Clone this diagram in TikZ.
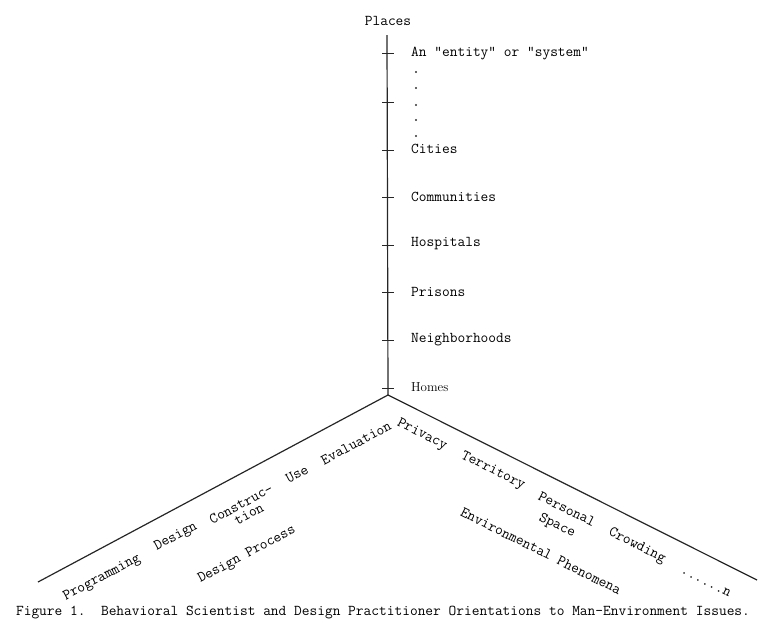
\documentclass[tikz,border=0pt]{standalone}
\begin{document}
\begin{tikzpicture}[x=1pt,y=-1pt,
  font=\ttfamily\fontsize{15}{18}\selectfont,
  axis/.style={line width=1.2pt,black!85},
  tick/.style={line width=1pt,black!85},
  place/.style={anchor=west,inner sep=0pt},
  lft/.style={rotate=28,inner sep=0pt},
  rgt/.style={rotate=-26.6,inner sep=0pt},
  dotmark/.style={circle,fill=black!80,inner sep=0pt,minimum size=2.4pt}]
\useasboundingbox (0,0) rectangle (758,625);
% axes
\coordinate (O) at (388,395);
\coordinate (T) at (387,35);
\coordinate (L) at (38,582);
\coordinate (R) at (757,580);
\draw[axis] (T) -- (O);
\draw[axis] (L) -- (O) -- (R);
% ticks
\foreach \y/\n in {53/a,102/b,150/c,197/d,245/e,292/f,340/g,388/h}{
  \coordinate (t\n l) at (382,\y);
  \coordinate (t\n r) at (394,\y);
  \draw[tick] (t\n l) -- (t\n r);
}
% vertical axis labels
\node[inner sep=0pt] (places) at (388,21) {Places};
\node[place] (entity) at (411,54) {An "entity" or "system"};
\foreach \y/\n in {72/1,88/2,105/3,120/4,136/5}{
  \node[dotmark] (dot\n) at (416,\y) {};
}
\node[place] (cities) at (411,149) {Cities};
\node[place] (communities) at (411,197) {Communities};
\node[place] (hospitals) at (411,244) {Hospitals};
\node[place] (prisons) at (411,292) {Prisons};
\node[place] (neigh) at (411,340) {Neighborhoods};
\node[place,font=\rmfamily\fontsize{13}{15}\selectfont] (homes) at (411,387) {Homes};
% design process axis
\node[lft] (prog) at (102,578) {Programming};
\node[lft] (design) at (176,537) {Design};
\node[lft] (constr) at (241,504) {Construc-};
\node[lft] (tion) at (249,514) {tion};
\node[lft] (use) at (297,474) {Use};
\node[lft] (eval) at (356,443) {Evaluation};
\node[lft] (dproc) at (247,555) {Design Process};
% environmental phenomena axis
\node[rgt] (privacy) at (422,435) {Privacy};
\node[rgt] (territory) at (493,471) {Territory};
\node[rgt] (personal) at (567,509) {Personal};
\node[rgt] (space) at (557,526) {Space};
\node[rgt] (crowding) at (637,546) {Crowding};
\node[rgt] (dots) at (706,582) {......n};
\node[rgt] (envph) at (541,551) {Environmental Phenomena};
% caption
\node[inner sep=0pt] (caption) at (383,613) {Figure 1.\ \ Behavioral Scientist and Design Practitioner Orientations to Man-Environment Issues.};
\end{tikzpicture}
\end{document}
